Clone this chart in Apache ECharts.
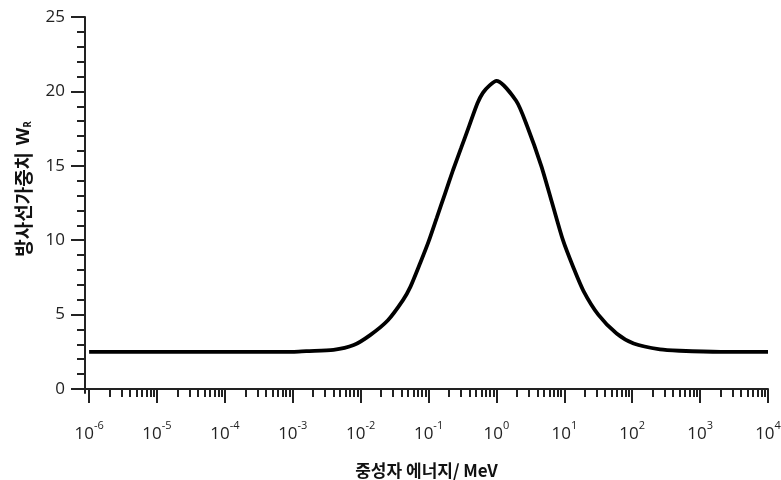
<!DOCTYPE html>
<html>
<head>
<meta charset="utf-8">
<script src="https://cdn.jsdelivr.net/npm/echarts@6/dist/echarts.min.js"></script>
<style>
    html, body { margin: 0; padding: 0; background: #fff; }
    #chartwr { width: 781px; height: 480px; }
</style>
</head>
<body>
<div id="chartwr"></div>
<script>
// 중성자 에너지 (MeV) / 방사선가중치 W_R — 그림에서 읽은 값
var energy = [1e-6, 1e-3, 1.58e-3, 3.98e-3, 7.9e-3, 1.38e-2, 2.5e-2, 4.2e-2, 5.4e-2, 7.59e-2,
    0.1, 0.132, 0.174, 0.229, 0.302, 0.398, 0.525, 0.631, 0.794, 1.0,
    1.95, 2.82, 4.57, 6.61, 9.55, 13.5, 19.1, 31.6, 58.9, 105,
    257, 501, 2000, 1e4];
var weight = [2.5, 2.5, 2.55, 2.63, 2.95, 3.62, 4.6, 5.97, 6.86, 8.5,
    9.9, 11.5, 13.1, 14.7, 16.2, 17.7, 19.2, 19.9, 20.4, 20.71,
    19.37, 17.69, 15.0, 12.5, 10.0, 8.2, 6.6, 5.0, 3.73, 3.06,
    2.66, 2.57, 2.5, 2.5];

// 눈금
var xMajor = [1e-6, 1e-5, 1e-4, 1e-3, 1e-2, 1e-1, 1, 1e1, 1e2, 1e3, 1e4];
var yMajor = [0, 5, 10, 15, 20, 25];
var yMinor = [];
for (var i = 0; i <= 25; i++) if (i % 5 != 0) yMinor.push(i);
var xMinor = [];
for (var d = 0; d < xMajor.length - 1; d++)
    for (var m = 2; m <= 9; m++) xMinor.push(xMajor[d] * m);

var axisColor = '#222';

var chart = echarts.init(document.getElementById('chartwr'));
var points = [];
for (var k = 0; k < energy.length; k++) points.push([energy[k], weight[k]]);

var option = {
    animation: false,
    grid: {
        left: 85,
        right: 13,
        top: 17,
        bottom: 87,
        containLabel: false,
        outerBoundsMode: 'none'
    },
    xAxis: [{
        type: 'log',
        position: 'bottom',
        logBase: 10,
        min: 8.7e-7,
        max: 1e4,
        name: '중성자 에너지/ MeV',
        nameLocation: 'middle',
        nameGap: 69,
        nameTextStyle: {
            color: '#111',
            fontSize: 17,
            fontWeight: 'bold',
            fontFamily: 'Noto Sans CJK KR'
        },
        axisLine: { lineStyle: { color: axisColor, width: 2 } },
        axisTick: { customValues: xMajor, length: 14, lineStyle: { color: axisColor, width: 2 } },
        axisLabel: {
            customValues: xMajor,
            margin: 27,
            formatter: function (v) {
                var e = Math.round(Math.log(v) / Math.LN10);
                return '{b|10}{s|' + e + '}';
            },
            rich: {
                b: { fontSize: 17, color: '#222', fontFamily: 'Open Sans' },
                s: { fontSize: 11, color: '#222', fontFamily: 'Open Sans', padding: [0, 0, 18, 0] }
            }
        },
        splitLine: { show: false }
    }, {
        type: 'log',
        position: 'bottom',
        logBase: 10,
        min: 8.7e-7,
        max: 1e4,
        axisLine: { show: false },
        axisTick: { customValues: xMinor, length: 8, lineStyle: { color: axisColor, width: 2 } },
        axisLabel: { show: false },
        splitLine: { show: false }
    }],
    yAxis: [{
        type: 'value',
        position: 'left',
        min: -0.27,
        max: 25,
        name: '{k|방사선가중치}  {w|W}{r|R}',
        nameLocation: 'middle',
        nameGap: 52,
        nameTextStyle: {
            padding: [0, 0, 0, 32],
            rich: {
                k: { fontSize: 19, fontWeight: 'bold', color: '#111', fontFamily: 'Noto Sans CJK KR' },
                w: { fontSize: 18, fontWeight: 'bold', color: '#111', fontFamily: 'Open Sans' },
                r: { fontSize: 10, fontWeight: 'bold', color: '#111', fontFamily: 'Open Sans', padding: [9, 0, 0, 0] }
            }
        },
        axisLine: { show: true, lineStyle: { color: axisColor, width: 2 } },
        axisTick: { show: true, customValues: yMajor, length: 14, lineStyle: { color: axisColor, width: 2 } },
        axisLabel: {
            customValues: yMajor,
            margin: 20,
            color: '#222',
            fontSize: 17,
            fontFamily: 'Open Sans'
        },
        splitLine: { show: false }
    }, {
        type: 'value',
        position: 'left',
        min: -0.27,
        max: 25,
        axisLine: { show: false },
        axisTick: { show: true, customValues: yMinor, length: 8, lineStyle: { color: axisColor, width: 2 } },
        axisLabel: { show: false },
        splitLine: { show: false }
    }],
    series: [{
        type: 'line',
        xAxisIndex: 0,
        yAxisIndex: 0,
        smooth: 0.25,
        symbol: 'none',
        lineStyle: { color: '#000', width: 3.8 },
        data: points
    }]
};
chart.setOption(option);
</script>
</body>
</html>
